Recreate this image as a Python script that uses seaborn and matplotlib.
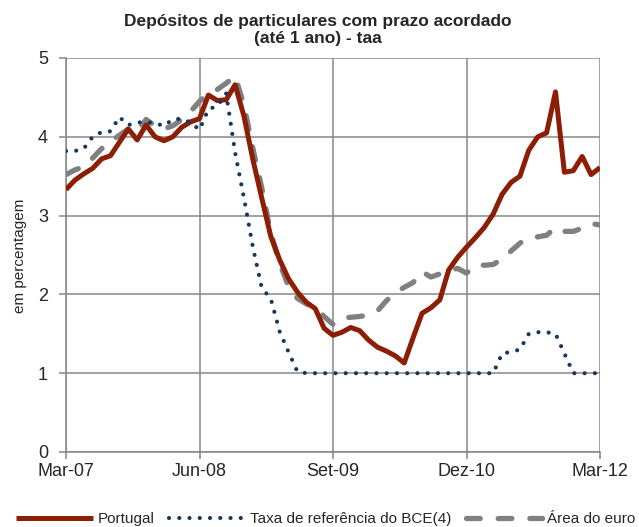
import numpy as np
import pandas as pd
import seaborn as sns
import matplotlib.pyplot as plt

# monthly series, Mar-07 .. Mar-12 (61 months)
portugal = [3.33, 3.45, 3.53, 3.60, 3.72, 3.76, 3.93, 4.10, 3.96, 4.15,
            4.00, 3.95, 4.00, 4.12, 4.19, 4.23, 4.53, 4.46, 4.47, 4.66,
            4.26, 3.71, 3.22, 2.74, 2.44, 2.20, 2.03, 1.90, 1.82, 1.57,
            1.48, 1.52, 1.58, 1.54, 1.42, 1.33, 1.28, 1.22, 1.13, 1.45,
            1.76, 1.83, 1.93, 2.31, 2.47, 2.60, 2.72, 2.85, 3.02, 3.27,
            3.42, 3.50, 3.83, 4.00, 4.05, 4.57, 3.55, 3.57, 3.75, 3.52,
            3.61]
taxa_bce = [3.82, 3.82, 3.85, 4.00, 4.06, 4.07, 4.25, 4.15, 4.18, 4.19,
            4.17, 4.14, 4.22, 4.23, 4.18, 4.09, 4.35, 4.39, 4.55, 3.80,
            3.22, 2.60, 2.08, 1.95, 1.53, 1.27, 1.02, 1.00, 1.00, 1.00,
            1.00, 1.00, 1.00, 1.00, 1.00, 1.00, 1.00, 1.00, 1.00, 1.00,
            1.00, 1.00, 1.00, 1.00, 1.00, 1.00, 1.00, 1.00, 1.00, 1.25,
            1.27, 1.30, 1.50, 1.52, 1.52, 1.50, 1.25, 1.00, 1.00, 1.00,
            1.00]
area_euro = [3.52, 3.58, 3.62, 3.73, 3.85, 3.94, 4.02, 4.10, 4.07, 4.22,
             4.14, 4.10, 4.14, 4.22, 4.32, 4.45, 4.55, 4.60, 4.68, 4.77,
             4.40, 3.85, 3.35, 2.78, 2.40, 2.10, 1.95, 1.88, 1.83, 1.72,
             1.62, 1.70, 1.71, 1.72, 1.74, 1.79, 1.92, 2.02, 2.09, 2.15,
             2.29, 2.22, 2.26, 2.30, 2.33, 2.27, 2.37, 2.37, 2.38, 2.45,
             2.55, 2.65, 2.72, 2.73, 2.75, 2.85, 2.80, 2.80, 2.84, 2.90,
             2.88]
tick_pos = [0, 15, 30, 45, 60]
tick_labels = ['Mar-07', 'Jun-08', 'Set-09', 'Dez-10', 'Mar-12']

df = pd.DataFrame({'mes': np.arange(len(portugal)),
                   'Portugal': portugal,
                   'BCE': taxa_bce,
                   'Euro': area_euro})

sns.set_style('white')
plt.rcParams['font.family'] = ['Liberation Sans', 'DejaVu Sans']

grey = '#868686'
fig = plt.figure(figsize=(6.39, 5.27), dpi=100)
ax = fig.add_axes([66 / 639, 1 - 452 / 527, 534 / 639, 394 / 527])

sns.lineplot(data=df, x='mes', y='Portugal', ax=ax, color='#8B1E04',
             linewidth=3.6, label='Portugal', zorder=3)
sns.lineplot(data=df, x='mes', y='BCE', ax=ax, color='#17375E',
             linewidth=3.0, label='Taxa de referência do BCE(4)', zorder=4)
sns.lineplot(data=df, x='mes', y='Euro', ax=ax, color='#808080',
             linewidth=3.8, label='Área do euro', zorder=2)

l_pt, l_bce, l_eu = ax.lines[:3]
l_pt.set_solid_capstyle('butt')
l_pt.set_solid_joinstyle('round')
l_bce.set_linestyle((0, (0.01, 2.45)))
l_bce.set_dash_capstyle('round')
l_eu.set_linestyle((0, (2.6, 3.4)))
l_eu.set_dash_capstyle('round')

ax.set_xlim(0, 60)
ax.set_ylim(0, 5)
ax.set_xticks(tick_pos)
ax.set_xticklabels(tick_labels)
ax.set_yticks([0, 1, 2, 3, 4, 5])
ax.set_xlabel('')
ax.set_ylabel('')
ax.grid(True, color=grey, linewidth=1.1)
ax.set_axisbelow(True)
for s in ['top', 'right']:
    ax.spines[s].set_visible(False)
for s in ['left', 'bottom']:
    ax.spines[s].set_color(grey)
    ax.spines[s].set_linewidth(1.1)
ax.tick_params(axis='y', length=5, width=1.1, color=grey, pad=8,
               labelsize=13, direction='out', left=True)
ax.tick_params(axis='x', length=5, width=1.1, color=grey, pad=3,
               labelsize=13, direction='out', bottom=True)
ax.get_legend().remove()

fig.text(0.497, 1 - 30 / 527,
         'Depósitos de particulares com prazo acordado\n(até 1 ano) - taa',
         ha='center', va='center', fontsize=12.5, fontweight='bold',
         linespacing=1.15)
fig.text(20 / 639, 1 - 256 / 527, 'em percentagem', rotation=90,
         ha='center', va='center', fontsize=11)

h, lab = ax.get_legend_handles_labels()
fig.legend(h, lab, loc='center', bbox_to_anchor=(0.51, 1 - 519 / 527),
           ncol=3, frameon=False, fontsize=11, handlelength=5.0,
           handletextpad=0.35, columnspacing=0.9)

fig.savefig('out.png', dpi=100)
